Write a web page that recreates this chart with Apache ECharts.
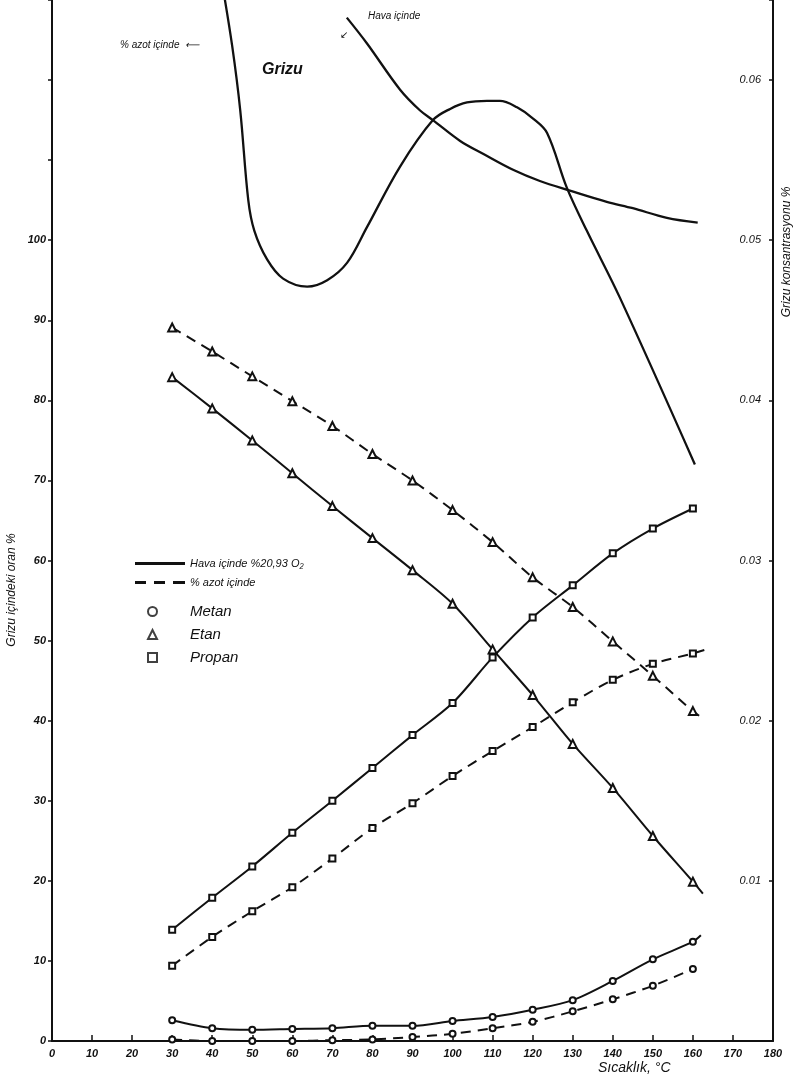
<!DOCTYPE html>
<html>
<head>
<meta charset="utf-8">
<title>Grizu</title>
<script src="https://cdn.jsdelivr.net/npm/echarts@6/dist/echarts.min.js"></script>
<style>
  html, body { margin: 0; padding: 0; background: #fff; }
  #chart { width: 795px; height: 1078px; }
</style>
</head>
<body>
<div id="chart"></div>
<script>
// sıcaklık (°C) ve grizu içindeki oran (%)
const temps = [30, 40, 50, 60, 70, 80, 90, 100, 110, 120, 130, 140, 150, 160]
const metanHava = [2.6, 1.6, 1.4, 1.5, 1.6, 1.9, 1.9, 2.5, 3.0, 3.9, 5.1, 7.5, 10.2, 12.4]
const metanAzot = [0.2, 0, 0, 0, 0.1, 0.2, 0.5, 0.9, 1.6, 2.4, 3.7, 5.2, 6.9, 9.0]
const etanHava = [82.9, 79.0, 75.0, 70.9, 66.8, 62.8, 58.8, 54.6, 48.9, 43.2, 37.1, 31.6, 25.6, 19.9]
const etanAzot = [89.1, 86.1, 83.0, 79.9, 76.8, 73.3, 70.0, 66.3, 62.3, 57.9, 54.2, 49.9, 45.6, 41.2]
const propanHava = [13.9, 17.9, 21.8, 26.0, 30.0, 34.1, 38.2, 42.2, 47.9, 52.9, 56.9, 60.9, 64.0, 66.5]
const propanAzot = [9.4, 13.0, 16.2, 19.2, 22.8, 26.6, 29.7, 33.1, 36.2, 39.2, 42.3, 45.1, 47.1, 48.4]

// lines run on a little past the last marker
const metanHavaEnd = [162, 13.2]
const etanHavaEnd = [162.5, 18.4]
const etanAzotEnd = [162.5, 40.3]
const propanAzotEnd = [164, 49.0]

// grizu konsantrasyonu (%), right axis
const grizuAzotT = [42.5, 45, 47, 49, 50.5, 53.7, 57.7, 63.7, 68.7, 73.7, 78.6, 86.9, 95.1, 99.4, 103.6, 108.6, 111.8, 116.1, 120.1, 123.6, 128.5, 133.5, 141.8, 160.5]
const grizuAzot = [0.0660, 0.0621, 0.0581, 0.0525, 0.0506, 0.0488, 0.0476, 0.0471, 0.0475, 0.0486, 0.0508, 0.0546, 0.0575, 0.0582, 0.0586, 0.0587, 0.0587, 0.0583, 0.0576, 0.0567, 0.0533, 0.0506, 0.0464, 0.0360]
const grizuHavaT = [73.6, 78.6, 86.9, 91.9, 95.1, 101.9, 107.6, 115.1, 121.8, 129.3, 138.5, 145, 153.5, 161.2]
const grizuHava = [0.0639, 0.0623, 0.0594, 0.0581, 0.0575, 0.0562, 0.0554, 0.0544, 0.0537, 0.0531, 0.0524, 0.0520, 0.0514, 0.0511]

const INK = '#111'
const FONT = '"Liberation Sans", Arial, sans-serif'
const DASH = [10, 7]

function curve(name, values, symbol, dashed, tail) {
  const data = temps.map((t, i) => [t, values[i]])
  if (tail) data.push({ value: tail, symbol: 'none' })
  return {
    name,
    type: 'line',
    data,
    symbol,
    symbolSize: symbol === 'emptyTriangle' ? 8 : 6,
    showAllSymbol: true,
    smooth: 0.3,
    lineStyle: { color: INK, width: 2, type: dashed ? DASH : 'solid' },
    itemStyle: { color: INK, borderWidth: 1.3 },
    z: 3
  }
}

function grizu(name, xs, ys, width) {
  return {
    name,
    type: 'line',
    yAxisIndex: 1,
    data: xs.map((t, i) => [t, ys[i]]),
    symbol: 'none',
    smooth: 0.35,
    lineStyle: { color: INK, width },
    z: 2
  }
}

const chart = echarts.init(document.getElementById('chart'))

const labelStyle = { color: INK, fontFamily: FONT, fontStyle: 'italic', fontWeight: 'bold', fontSize: 11 }

const option = {
  animation: false,
  backgroundColor: '#fff',
  grid: { left: 52, right: 22, top: 0, bottom: 37, containLabel: false },
  legend: [
    {
      orient: 'vertical',
      left: 130,
      top: 553,
      itemWidth: 50,
      itemHeight: 3,
      itemGap: 8,
      data: [
        { name: 'Hava içinde %20,93 O₂', icon: 'rect' },
        { name: '% azot içinde', icon: 'path://M0,0h11v3h-11zM19,0h11v3h-11zM38,0h12v3h-12z' }
      ],
      textStyle: { color: INK, fontFamily: FONT, fontStyle: 'italic', fontSize: 11 }
    },
    {
      orient: 'vertical',
      left: 142,
      top: 599,
      itemWidth: 9,
      itemHeight: 9,
      itemGap: 8,
      data: [
        { name: 'Metan', icon: 'emptyCircle' },
        { name: 'Etan', icon: 'emptyTriangle' },
        { name: 'Propan', icon: 'emptyRect' }
      ],
      textStyle: { color: INK, fontFamily: FONT, fontStyle: 'italic', fontSize: 15, padding: [0, 0, 0, 28] }
    }
  ],
  xAxis: {
    type: 'value',
    min: 0,
    max: 180,
    interval: 10,
    axisLine: { lineStyle: { color: INK, width: 2 } },
    axisTick: { inside: true, length: 6, lineStyle: { color: INK, width: 1.5 } },
    axisLabel: Object.assign({ margin: 7, fontSize: 12 }, labelStyle),
    splitLine: { show: false }
  },
  yAxis: [
    {
      type: 'value',
      min: 0,
      max: 130,
      interval: 10,
      position: 'left',
      axisLine: { show: true, lineStyle: { color: INK, width: 2 } },
      axisTick: { show: true, length: 4, lineStyle: { color: INK, width: 1.5 } },
      axisLabel: Object.assign({ margin: 6, formatter: v => (v <= 100 ? v : '') }, labelStyle),
      splitLine: { show: false }
    },
    {
      type: 'value',
      min: 0,
      max: 0.065,
      interval: 0.01,
      position: 'right',
      axisLine: { show: true, lineStyle: { color: INK, width: 2 } },
      axisTick: { show: true, inside: true, length: 4, lineStyle: { color: INK, width: 1.5 } },
      axisLabel: Object.assign({ inside: true, margin: 12, formatter: v => (v === 0 || v > 0.0605 ? '' : v.toFixed(2)) }, labelStyle, { fontWeight: 'normal' }),
      splitLine: { show: false }
    }
  ],
  series: [
    // legend-only entries
    { name: 'Hava içinde %20,93 O₂', type: 'line', data: [], symbol: 'none', lineStyle: { color: INK, width: 2.5 }, itemStyle: { color: INK } },
    { name: '% azot içinde', type: 'line', data: [], symbol: 'none', lineStyle: { color: INK, width: 2.5, type: DASH }, itemStyle: { color: INK } },
    { name: 'Metan', type: 'scatter', data: [], symbol: 'emptyCircle', itemStyle: { color: INK, borderWidth: 1.5 } },
    { name: 'Etan', type: 'scatter', data: [], symbol: 'emptyTriangle', itemStyle: { color: INK, borderWidth: 1.5 } },
    { name: 'Propan', type: 'scatter', data: [], symbol: 'emptyRect', itemStyle: { color: INK, borderWidth: 1.5 } },

    curve('metan-hava', metanHava, 'emptyCircle', false, metanHavaEnd),
    curve('metan-azot', metanAzot, 'emptyCircle', true),
    curve('etan-hava', etanHava, 'emptyTriangle', false, etanHavaEnd),
    curve('etan-azot', etanAzot, 'emptyTriangle', true, etanAzotEnd),
    curve('propan-hava', propanHava, 'emptyRect', false),
    curve('propan-azot', propanAzot, 'emptyRect', true, propanAzotEnd),

    grizu('grizu-azot', grizuAzotT, grizuAzot, 2.3),
    grizu('grizu-hava', grizuHavaT, grizuHava, 2.3)
  ],
  graphic: [
    { type: 'text', left: 598, top: 1061, style: { text: 'Sıcaklık, °C', fill: INK, font: 'italic 14px ' + FONT } },
    { type: 'text', x: 12, y: 590, rotation: Math.PI / 2, style: { text: 'Grizu içindeki oran %', fill: INK, font: 'italic 12px ' + FONT, align: 'center', verticalAlign: 'middle' } },
    { type: 'text', x: 787, y: 252, rotation: Math.PI / 2, style: { text: 'Grizu konsantrasyonu %', fill: INK, font: 'italic 12px ' + FONT, align: 'center', verticalAlign: 'middle' } },
    { type: 'text', left: 120, top: 40, style: { text: '% azot içinde  ⟵', fill: INK, font: 'italic 10px ' + FONT } },
    { type: 'text', left: 262, top: 62, style: { text: 'Grizu', fill: INK, font: 'italic bold 16px ' + FONT } },
    { type: 'text', left: 340, top: 30, style: { text: '↙', fill: INK, font: '10px ' + FONT } },
    { type: 'text', left: 368, top: 11, style: { text: 'Hava içinde', fill: INK, font: 'italic 10px ' + FONT } }
  ]
}

chart.setOption(option)
window.addEventListener('resize', () => chart.resize())
</script>
</body>
</html>
